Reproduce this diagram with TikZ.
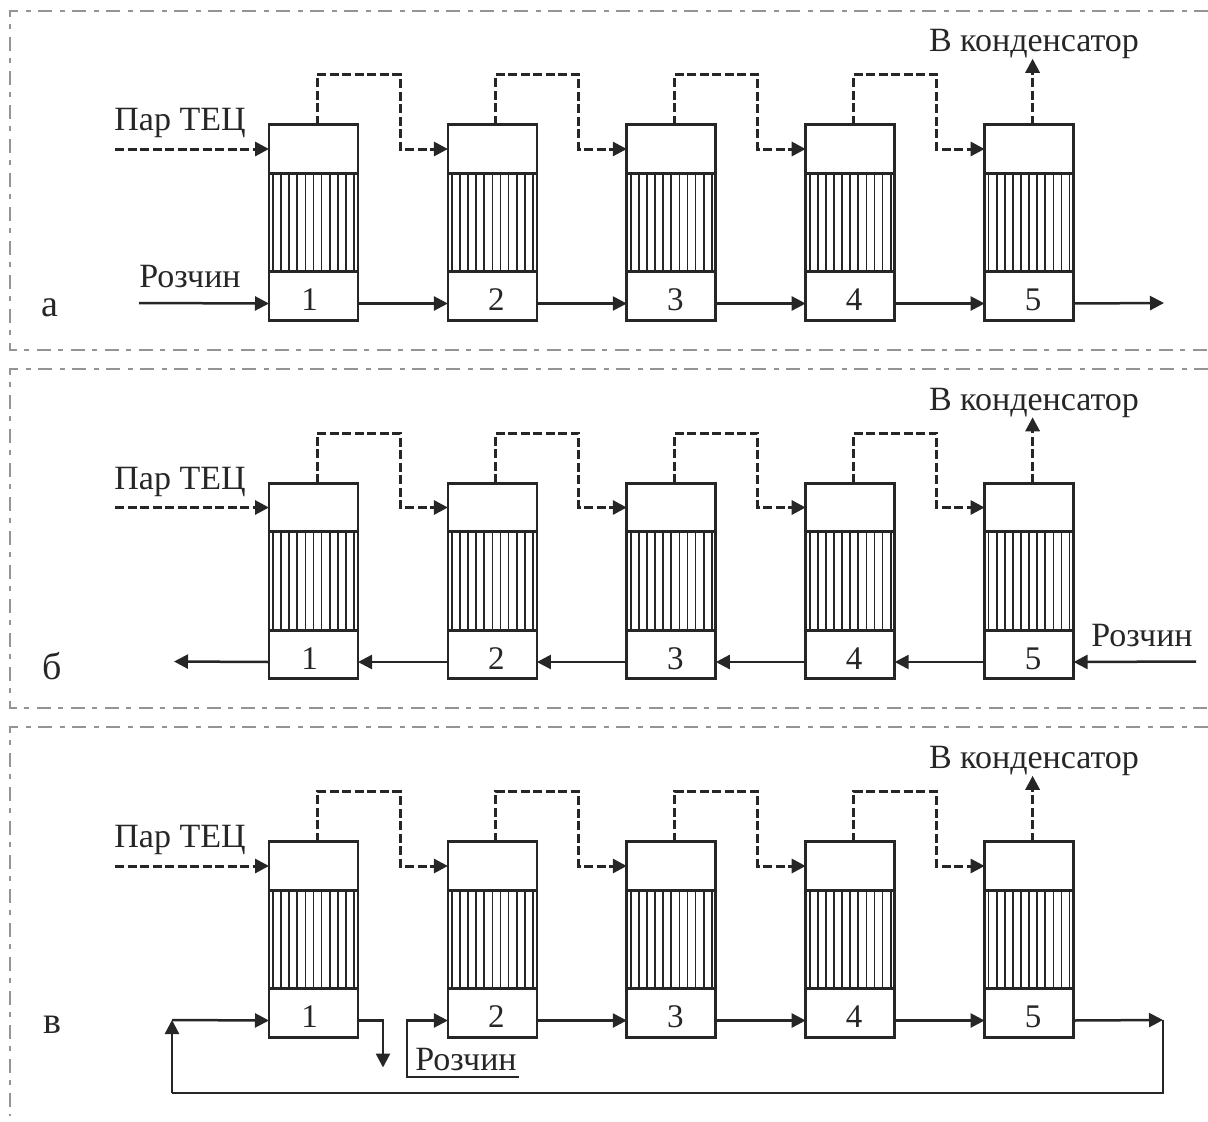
\documentclass[tikz,border=0pt]{standalone}
\usepackage{fontspec}
\setmainfont{Liberation Serif}
\usetikzlibrary{arrows.meta,calc}
\definecolor{ink}{gray}{0.15}
\definecolor{framegray}{gray}{0.58}
\tikzset{
  x=1pt,y=-1pt,
  every node/.style={text=ink,font=\fontsize{34}{38}\selectfont,inner sep=0pt,outer sep=0pt},
  chamber/.style={draw=ink,line width=2.8pt,minimum width=89pt,minimum height=48.5pt},
  tubes/.style={draw=ink,line width=2.8pt,minimum width=89pt,minimum height=98.5pt},
  tube/.style={draw=ink,line width=1.7pt},
  flow/.style={draw=ink,line width=2.5pt,-{Triangle[length=14pt,width=14pt]}},
  plain/.style={draw=ink,line width=2.5pt,line join=miter},
  steam/.style={draw=ink,line width=3pt,dash pattern=on 9pt off 3.5pt,-{Triangle[length=14pt,width=14pt]}},
  panelframe/.style={draw=framegray,line width=1.6pt,dash pattern=on 14pt off 7pt on 5pt off 8pt},
  letter/.style={font=\fontsize{38}{40}\selectfont},
  digit/.style={font=\fontsize{33}{36}\selectfont}
}
\begin{document}
\begin{tikzpicture}
\useasboundingbox (0,0) rectangle (1208,1122);
% panel frames
\coordinate (fa1) at (1208,11);  \coordinate (fa2) at (10,11);  \coordinate (fa3) at (10,350);  \coordinate (fa4) at (1208,350);
\coordinate (fb1) at (1208,369); \coordinate (fb2) at (10,369); \coordinate (fb3) at (10,708);  \coordinate (fb4) at (1208,708);
\coordinate (fc1) at (1208,727); \coordinate (fc2) at (10,727); \coordinate (fc3) at (10,1116);
\draw[panelframe] (fa1) -- (fa2) -- (fa3) -- (fa4);
\draw[panelframe] (fb1) -- (fb2) -- (fb3) -- (fb4);
\draw[panelframe] (fc1) -- (fc2) -- (fc3);
% evaporators
\foreach \p/\dy in {a/0,b/358.5,c/717}{
  \begin{scope}[shift={(0,\dy)}]
  \foreach \i/\dx in {1/-4,2/4,3/4,4/4,5/4}{
    \pgfmathsetmacro{\cx}{313.5+179*(\i-1)-0.1*(\i-1)}
    \node[chamber] (\p\i t) at (\cx,149) {};
    \node[tubes] (\p\i m) at (\cx,222.3) {};
    \node[chamber] (\p\i b) at (\cx,296) {};
    \node[digit] (\p\i n) at (\cx+\dx,300) {\i};
    \foreach \k in {-5,...,5}{
      \draw[tube] ([xshift=\k*8.1pt]\p\i m.north) -- ([xshift=\k*8.1pt]\p\i m.south);
    }
    \coordinate (\p\i so) at ([xshift=3.5pt]\p\i t.north);
    \coordinate (\p\i bw) at ([yshift=-7.5pt]\p\i b.west);
    \coordinate (\p\i be) at ([yshift=-7.5pt]\p\i b.east);
  }
  % steam line
  \coordinate (\p s) at (115,149);
  \draw[steam] (\p s) -- (\p1t.west);
  \foreach \i/\j in {1/2,2/3,3/4,4/5}{
    \draw[steam] (\p\i so) -- ++(0,-50) -- ++(83,0) |- (\p\j t.west);
  }
  \draw[steam] (\p5so) -- ++(0,-66);
  \node (\p v) at (1034,44) {В конденсатор};
  \node (\p p) at (180,123) {Пар ТЕЦ};
  \end{scope}
}
% panel a
\coordinate (as) at (139,303);
\coordinate (ae) at (1164,303);
\node (ar) at (190,277) {Розчин};
\node[letter] (al) at (50,308) {а};
\draw[flow] (as) -- (a1bw);
\foreach \i/\j in {1/2,2/3,3/4,4/5}{\draw[flow] (a\i be) -- (a\j bw);}
\draw[flow] (a5be) -- (ae);
% panel b
\coordinate (bs) at (1196,661.5);
\coordinate (be) at (174,661.5);
\node (br) at (1142,636) {Розчин};
\node[letter] (bl) at (52,666) {б};
\draw[flow] (bs) -- (b5be);
\foreach \i/\j in {2/1,3/2,4/3,5/4}{\draw[flow] (b\i bw) -- (b\j be);}
\draw[flow] (b1bw) -- (be);
% panel c
\coordinate (cl) at (172,1020);
\coordinate (cr) at (1163,1020);
\coordinate (cdl) at (172,1093);
\coordinate (cdr) at (1163,1093);
\coordinate (cf) at (519,1077);
\coordinate (cfc) at (407,1077);
\node (cn) at (466,1060) {Розчин};
\node[letter] (cc) at (52,1025) {в};
\draw[flow] (cl) -- (c1bw);
\draw[flow] (c1be) -| ++(25,47);
\draw[flow] (cf) -- (cfc) |- (c2bw);
\foreach \i/\j in {2/3,3/4,4/5}{\draw[flow] (c\i be) -- (c\j bw);}
\draw[flow] (c5be) -- (cr);
\draw[plain] (cr) -- (cdr) -- (cdl);
\draw[flow] (cdl) -- (cl);
\end{tikzpicture}
\end{document}
